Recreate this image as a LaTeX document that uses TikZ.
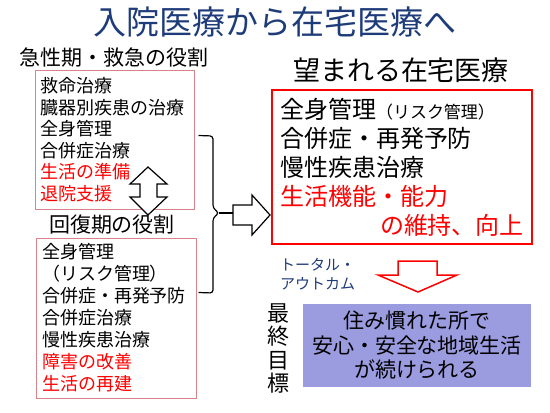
\documentclass[tikz,border=0pt]{standalone}
\usepackage{fontspec}
\setmainfont{Noto Sans CJK JP}
\usepackage{tikz}
\usetikzlibrary{positioning,calc}
\definecolor{titlec}{HTML}{1F3C7A}
\definecolor{rolec}{HTML}{D9828C}
\definecolor{goalc}{HTML}{9B9BE0}
\definecolor{wishc}{HTML}{FF0000}
\newcommand{\fsz}[2]{\fontsize{#1}{#2}\selectfont}
\tikzset{
  lbl/.style={inner sep=0pt},
  rolebox/.style={draw=rolec, line width=1pt, align=left, inner xsep=6pt, inner ysep=0pt, font=\fsz{18}{21.5}},
  wishbox/.style={draw=wishc, line width=2.6pt, align=left, inner xsep=8pt, inner ysep=0pt, font=\fsz{24}{29}},
  goalbox/.style={fill=goalc, align=center, inner sep=0pt, font=\fsz{21}{24.5}},
  blockarrow/.style={draw=black, fill=white, line width=1.2pt, line join=miter}
}
\begin{document}
\begin{tikzpicture}[x=1pt,y=-1pt]
  \useasboundingbox (0,0) rectangle (550,413);
  % headings
  \node[lbl, titlec, font=\fsz{33}{33}] (title) at (275,22) {入院医療から在宅医療へ};
  \node[lbl, anchor=west, font=\fsz{21}{21}] (acute) at (19,58) {急性期・救急の役割};
  \node[lbl, font=\fsz{21}{21}] (recov) at (112,225) {回復期の役割};
  \node[lbl, font=\fsz{27}{27}] (wish) at (401,70) {望まれる在宅医療};

  % left: role boxes
  \node[rolebox, minimum width=159pt, minimum height=139pt, text width=147pt] (acutebox) at (114.5,139.5)
    {救命治療\\臓器別疾患の治療\\全身管理\\合併症治療\\\textcolor{wishc}{生活の準備}\\\textcolor{wishc}{退院支援}};
  \node[rolebox, font=\fsz{18}{22}, minimum width=160pt, minimum height=160pt, text width=148pt] (recovbox) at (116,318)
    {全身管理\\（リスク管理）\\合併症・再発予防\\合併症治療\\慢性疾患治療\\\textcolor{wishc}{障害の改善}\\\textcolor{wishc}{生活の再建}};

  % up-down arrow between the two roles
  \draw[blockarrow] (148,167) -- (167,184) -- (157,184) -- (157,197) -- (167,197) -- (148,215)
    -- (130,197) -- (140,197) -- (140,184) -- (130,184) -- cycle;

  % brace joining both boxes
  \coordinate (brtop) at ($(acutebox.north east)+(4,66)$);
  \coordinate (brbot) at ($(recovbox.north east)+(2,55)$);
  \coordinate (brtip) at (219,213);
  \draw[line width=1.2pt, rounded corners=3pt] (brtop) -- (213,136) -- (213,208) -- (brtip) -- (213,218) -- (213,293) -- (brbot);
  \coordinate (artail) at (233,213);
  \draw[line width=1.2pt] (brtip) -- (artail);
  \draw[blockarrow] (233,205) -- (252,205) -- (252,195) -- (270,215) -- (252,235) -- (252,225) -- (233,225) -- cycle;

  % right: wished home care
  \node[wishbox, minimum width=260pt, minimum height=154pt, text width=244pt] (wishbox) at (402,167)
    {全身管理{\fsz{17}{29}（リスク管理）}\\合併症・再発予防\\慢性疾患治療\\\textcolor{wishc}{生活機能・能力}\\\hfill\textcolor{wishc}{の維持、向上}};

  \node[lbl, anchor=west, titlec, align=left, font=\fsz{15}{18.5}] (outcome) at (280,274) {トータル・\\アウトカム};
  \draw[draw=wishc, fill=white, line width=1.5pt] (398,261) -- (437,261) -- (437,275) -- (457,275) -- (418,292)
    -- (378,275) -- (398,275) -- cycle;

  % final goal
  \node[lbl, align=center, font=\fsz{22}{23.5}] (final) at (278,348.5) {最\\終\\目\\標};
  \node[goalbox, minimum width=228pt, minimum height=83pt] (goal) at (417,345.5)
    {住み慣れた所で\\安心・安全な地域生活\\が続けられる};
\end{tikzpicture}
\end{document}
